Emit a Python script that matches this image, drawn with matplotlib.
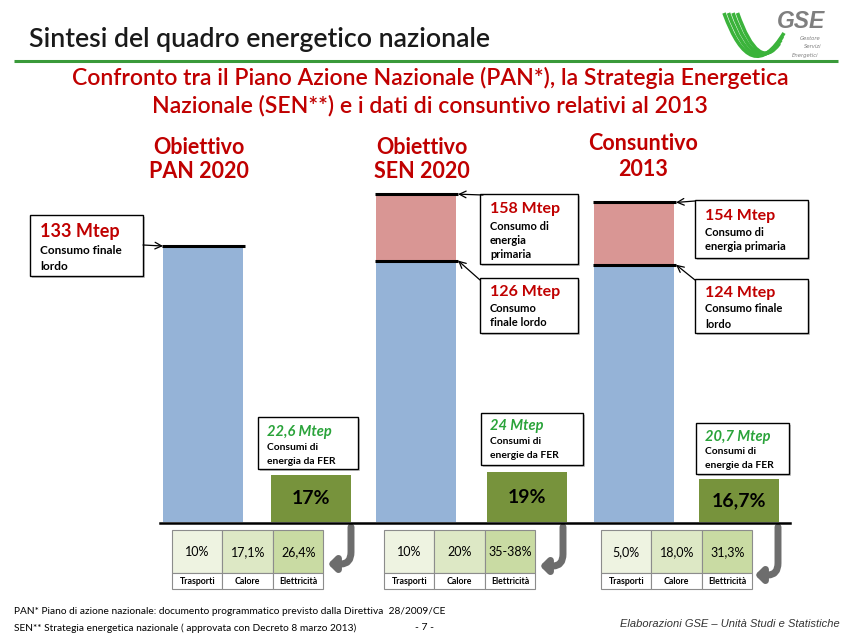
import matplotlib
matplotlib.use("Agg")
import matplotlib.pyplot as plt
from matplotlib.patches import Rectangle, FancyArrowPatch, PathPatch
from matplotlib.path import Path
import numpy as np

# ---------------- data ----------------
headers = [["Obiettivo", "PAN 2020"], ["Obiettivo", "SEN 2020"], ["Consuntivo", "2013"]]
final_consumption = [133, 126, 124]          # Mtep, consumo finale lordo
primary_consumption = [None, 158, 154]       # Mtep, consumo di energia primaria
final_labels = [["Consumo finale", "lordo"], ["Consumo", "finale lordo"], ["Consumo finale", "lordo"]]
primary_labels = [None, ["Consumo di", "energia", "primaria"], ["Consumo di", "energia primaria"]]
fer_mtep = [22.6, 24.0, 20.7]               # Mtep, consumi da FER
fer_mtep_labels = ["22,6 Mtep", "24 Mtep", "20,7 Mtep"]
fer_desc = [["Consumi di", "energia da FER"], ["Consumi di", "energie da FER"], ["Consumi di", "energie da FER"]]
fer_share = ["17%", "19%", "16,7%"]
sectors = ["Trasporti", "Calore", "Elettricità"]
sector_shares = [["10%", "17,1%", "26,4%"], ["10%", "20%", "35-38%"], ["5,0%", "18,0%", "31,3%"]]

title = "Sintesi del quadro energetico nazionale"
subtitle = ["Confronto tra il Piano Azione Nazionale (PAN*), la Strategia Energetica",
            "Nazionale (SEN**) e i dati di consuntivo relativi al 2013"]
footnotes = ["PAN* Piano di azione nazionale: documento programmatico previsto dalla Direttiva  28/2009/CE",
             "SEN** Strategia energetica nazionale ( approvata con Decreto 8 marzo 2013)"]
source = "Elaborazioni GSE – Unità Studi e Statistiche"

# ---------------- style / layout ----------------
RED = "#c00000"
BLUE = "#95b3d7"
PINK = "#d99694"
OLIVE = "#77933c"
GREEN_TXT = "#2aa33a"
FONT = "Lato"
W, H = 853, 639
BASE_PX = 522            # baseline pixel row
PX_PER_UNIT = 2.075      # pixels per Mtep
YMAX = 170

bar_left = [163, 376, 594]
bar_w = 80
fer_left = [271, 487, 699]
head_x = [199, 422, 643]
head_y = [(148, 172), (148, 172), (144, 169)]

fig = plt.figure(figsize=(W / 100, H / 100), dpi=100)
bg = fig.add_axes([0, 0, 1, 1])
bg.set_xlim(0, W)
bg.set_ylim(H, 0)
bg.axis("off")

ax = fig.add_axes([0, (H - BASE_PX) / H, 1, YMAX * PX_PER_UNIT / H])
ax.set_xlim(0, W)
ax.set_ylim(0, YMAX)
ax.axis("off")
ax.patch.set_alpha(0)

# title + line
bg.text(29, 40, title, fontsize=19.3, family=FONT, weight="semibold", color="#1a1a1a", va="center", ha="left")
bg.plot([14, 838], [61, 61], color="#3a9a3a", lw=2.2, solid_capstyle="butt")
for i, s in enumerate(subtitle):
    bg.text(430, 78 + 28 * i, s, fontsize=16.6, family=FONT, weight="semibold", color=RED, ha="center", va="center")

# GSE logo (decorative)
for k in range(4):
    p0 = (724 + k * 4.5, 13)
    c = (751 + k * 2.5, 88 - k * 5)
    p1 = (784 - k * 1.5, 33 + k * 3.5)
    bg.add_patch(PathPatch(Path([p0, c, p1], [Path.MOVETO, Path.CURVE3, Path.CURVE3]),
                           facecolor="none", edgecolor="#3bb33b", lw=2.6))
bg.text(777, 22, "GSE", fontsize=16.5, family="Liberation Sans", style="italic", weight="bold",
        color="#7f7f7f", ha="left", va="center")
for j, (s, xx) in enumerate(zip(["Gestore", "Servizi", "Energetici"], [800, 804, 792])):
    bg.text(xx, 38 + j * 9, s, fontsize=3.8, style="italic", color="#808080", ha="left", va="center")

# headers
for x, (l1, l2), (y1, y2) in zip(head_x, headers, head_y):
    bg.text(x, y1, l1, fontsize=15.5, family=FONT, weight="bold", color=RED, ha="center", va="center")
    bg.text(x, y2, l2, fontsize=15.5, family=FONT, weight="bold", color=RED, ha="center", va="center")

# bars
ax.bar(bar_left, final_consumption, width=bar_w, align="edge", color=BLUE, zorder=2)
prim_idx = [i for i, v in enumerate(primary_consumption) if v is not None]
ax.bar([bar_left[i] for i in prim_idx],
       [primary_consumption[i] - final_consumption[i] for i in prim_idx],
       bottom=[final_consumption[i] for i in prim_idx],
       width=bar_w, align="edge", color=PINK, zorder=2)
for i in range(3):
    ax.plot([bar_left[i] - 1, bar_left[i] + bar_w + 2], [final_consumption[i]] * 2, color="black", lw=2.2, zorder=3,
            solid_capstyle="butt")
    if primary_consumption[i] is not None:
        ax.plot([bar_left[i] - 1, bar_left[i] + bar_w + 2], [primary_consumption[i]] * 2, color="black", lw=2.2,
                zorder=3, solid_capstyle="butt")

# FER bars
ax.bar(fer_left, fer_mtep, width=80, align="edge", color=OLIVE, zorder=2)
for x, v, s in zip(fer_left, fer_mtep, fer_share):
    ax.text(x + 40, v / 2, s, fontsize=14, family=FONT, weight="bold", color="black", ha="center", va="center", zorder=4)

# baseline
bg.plot([160, 790], [BASE_PX + 1, BASE_PX + 1], color="black", lw=1.8)


def callout(x0, y0, x1, y1, big, lines, big_size, small_size, big_color, pad=10, line_ys=None, italic=False):
    bg.add_patch(Rectangle((x0 + 2, y0 + 2), x1 - x0, y1 - y0, facecolor="#c8c8c8", edgecolor="none", zorder=3))
    bg.add_patch(Rectangle((x0, y0), x1 - x0, y1 - y0, facecolor="white", edgecolor="black", lw=1.0, zorder=4))
    bg.text(x0 + pad, line_ys[0], big, fontsize=big_size, family=FONT, weight="bold", color=big_color,
            style="italic" if italic else "normal", ha="left", va="center", zorder=5)
    for s, yy in zip(lines, line_ys[1:]):
        bg.text(x0 + pad, yy, s, fontsize=small_size, family=FONT, weight="bold", color="black",
                ha="left", va="center", zorder=5)


def arrow_to(bar_x, value, tx, ty):
    ax.annotate("", xy=(bar_x, value), xycoords="data", xytext=(tx, ty), textcoords=bg.transData,
                arrowprops=dict(arrowstyle="->", color="black", lw=0.9, shrinkA=0, shrinkB=0,
                                mutation_scale=12), zorder=6)


# final consumption callouts
callout(30, 215, 143, 276, f"{final_consumption[0]} Mtep", final_labels[0], 13, 8.5, RED, line_ys=[231, 251, 266])
arrow_to(bar_left[0], final_consumption[0], 143, 245)

callout(480, 194, 578, 264, f"{primary_consumption[1]} Mtep", primary_labels[1], 11.5, 8, RED,
        line_ys=[209, 226, 240, 254])
arrow_to(bar_left[1] + bar_w + 2, primary_consumption[1], 483, 195)
callout(480, 278, 578, 333, f"{final_consumption[1]} Mtep", final_labels[1], 11.5, 8, RED, line_ys=[292, 309, 323])
arrow_to(bar_left[1] + bar_w + 2, final_consumption[1], 480, 280)

callout(695, 200, 808, 258, f"{primary_consumption[2]} Mtep", primary_labels[2], 11.5, 8, RED,
        line_ys=[216, 233, 247])
arrow_to(bar_left[2] + bar_w + 2, primary_consumption[2], 695, 201)
callout(695, 279, 808, 333, f"{final_consumption[2]} Mtep", final_labels[2], 11.5, 8, RED, line_ys=[293, 309, 324])
arrow_to(bar_left[2] + bar_w + 2, final_consumption[2], 695, 280)

# FER callouts
fer_boxes = [(258, 417, 358, 469, [432, 447, 461]),
             (481, 413, 583, 465, [426, 441, 455]),
             (696, 423, 789, 474, [437, 451, 465])]
for (x0, y0, x1, y1, ys), big, desc in zip(fer_boxes, fer_mtep_labels, fer_desc):
    callout(x0, y0, x1, y1, big, desc, 10.5, 7.4, GREEN_TXT, pad=9, line_ys=ys, italic=True)

# sector tables
table_left = [172, 384, 601]
col_w = 50.5
cell_colors = ["#eef3e1", "#dde8c5", "#c9dba3"]
for tl, shares in zip(table_left, sector_shares):
    for j in range(3):
        x = tl + j * col_w
        bg.add_patch(Rectangle((x, 530), col_w, 43, facecolor=cell_colors[j], edgecolor="#8c8c8c", lw=0.8))
        bg.add_patch(Rectangle((x, 573), col_w, 16, facecolor="white", edgecolor="#8c8c8c", lw=0.8))
        bg.text(x + col_w / 2, 552, shares[j], fontsize=9, family=FONT, color="black", ha="center", va="center")
        bg.text(x + col_w / 2, 581.5, sectors[j], fontsize=6.3, family=FONT, weight="bold", color="black",
                ha="center", va="center")

# curved gray arrows
arrow_x = [351, 563, 778]
arrow_tip = [(328, 564), (540, 566), (755, 575)]
for ax_x, (tx, ty) in zip(arrow_x, arrow_tip):
    verts = [(ax_x, 527), (ax_x, ty - 12), (ax_x, ty), (ax_x - 10, ty), (tx, ty)]
    codes = [Path.MOVETO, Path.LINETO, Path.CURVE3, Path.CURVE3, Path.LINETO]
    p = FancyArrowPatch(path=Path(verts, codes), arrowstyle="-|>,head_width=4,head_length=4",
                        color="#6d6d6d", lw=5, mutation_scale=1)
    bg.add_patch(p)

# footer
for i, s in enumerate(footnotes):
    bg.text(14, 612 + 16 * i, s, fontsize=7.3, family=FONT, color="black", ha="left", va="center")
bg.text(425, 628, "- 7 -", fontsize=7.5, family=FONT, color="black", ha="center", va="center")
bg.text(840, 624, source, fontsize=8, family="Liberation Sans", style="italic", color="#333333",
        ha="right", va="center")

fig.savefig("out.png", dpi=100)
